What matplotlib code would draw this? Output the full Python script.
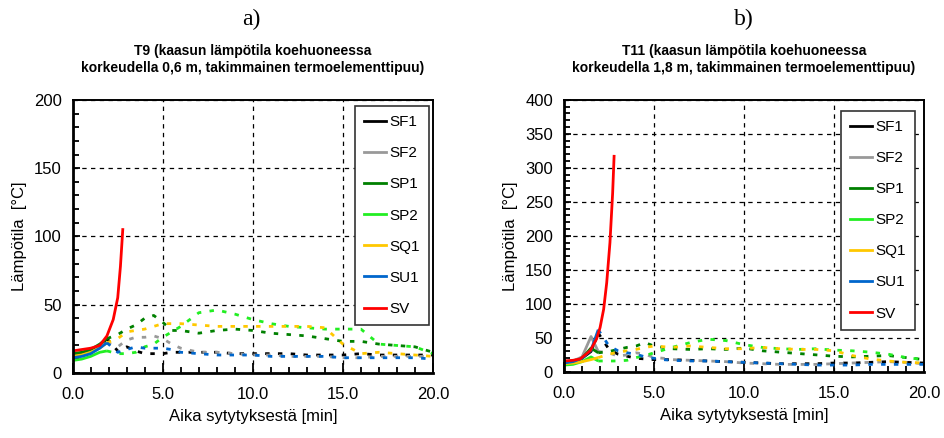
import matplotlib
matplotlib.use("Agg")
import matplotlib.pyplot as plt
from matplotlib.ticker import MultipleLocator, FormatStrFormatter

plt.rcParams['font.family'] = ['Liberation Sans', 'DejaVu Sans']

# time grid (min) shared by the measured series
t = [0, 0.5, 1, 1.5, 1.9, 2.5, 3, 3.5, 4, 4.5, 5, 5.5, 6, 7, 8, 9, 10, 11, 12, 13, 14, 15, 16, 17, 18, 19, 20]
names = ['SF1', 'SF2', 'SP1', 'SP2', 'SQ1', 'SU1']
colors = ['#000000', '#999999', '#008000', '#22ee22', '#ffc800', '#0066cc']

# a) T9, 0.6 m
a_sf1 = [13, 14, 16, 19, 25, 16, 19, 16, 14, 14, 14, 15, 15, 15, 15, 14, 14, 14, 14, 13, 13, 13, 14, 13, 13, 13, 13]
a_sf2 = [12, 13, 15, 19, 22, 19, 24, 26, 26, 27, 25, 21, 18, 15, 15, 14, 13, 13, 12, 12, 12, 11, 11, 12, 12, 12, 12]
a_sp1 = [14, 15, 17, 21, 25, 28, 32, 35, 40, 42, 37, 31, 31, 29, 31, 32, 31, 29, 28, 27, 25, 23, 23, 21, 20, 19, 15]
a_sp2 = [9, 10, 12, 15, 16, 14, 14, 15, 19, 21, 26, 30, 34, 44, 46, 43, 39, 36, 34, 33, 32, 32, 32, 21, 20, 19, 14]
a_sq1 = [12, 13, 15, 18, 22, 25, 30, 31, 32, 34, 36, 36, 36, 35, 34, 34, 34, 34, 34, 34, 33, 21, 14, 15, 14, 13, 12]
a_su1 = [11, 12, 14, 18, 22, 15, 17, 19, 18, 18, 18, 17, 15, 14, 13, 13, 13, 12, 12, 12, 12, 11, 11, 11, 11, 11, 10]
a_sv_t = [0, 0.5, 1, 1.5, 1.9, 2.25, 2.5, 2.65, 2.78]
a_sv = [16, 17, 18, 20, 27, 39, 55, 78, 105]

# b) T11, 1.8 m
b_sf1 = [15, 16, 20, 30, 57, 33, 26, 23, 20, 19, 18, 18, 18, 17, 16, 15, 14, 13, 12, 12, 12, 13, 13, 14, 15, 14, 13]
b_sf2 = [14, 16, 22, 52, 30, 28, 23, 25, 28, 26, 21, 20, 18, 17, 16, 15, 13, 12, 11, 11, 11, 12, 13, 14, 15, 14, 12]
b_sp1 = [12, 14, 20, 35, 28, 30, 33, 36, 38, 43, 38, 36, 34, 33, 34, 33, 35, 31, 29, 27, 25, 23, 22, 23, 24, 21, 18]
b_sp2 = [10, 11, 15, 22, 16, 16, 16, 17, 21, 24, 28, 32, 36, 43, 48, 46, 40, 36, 34, 33, 34, 32, 31, 29, 26, 21, 18]
b_sq1 = [12, 13, 15, 18, 21, 26, 29, 31, 33, 36, 38, 37, 36, 38, 36, 34, 34, 36, 34, 33, 33, 31, 24, 19, 16, 14, 13]
b_su1 = [13, 15, 20, 32, 62, 38, 31, 28, 26, 22, 20, 18, 17, 16, 16, 15, 14, 13, 12, 11, 10, 10, 10, 11, 11, 11, 11]
b_sv_t = [0, 0.5, 0.9, 1.45, 1.8, 2.0, 2.2, 2.37, 2.55, 2.7, 2.78]
b_sv = [16, 17, 19, 31, 48, 65, 92, 131, 190, 263, 317]

fig = plt.figure(figsize=(9.44, 4.38), dpi=100)
ax1 = fig.add_axes([0.077, 0.149, 0.3817, 0.6226])
ax2 = fig.add_axes([0.5975, 0.151, 0.3814, 0.621])

panels = [
    (ax1, [a_sf1, a_sf2, a_sp1, a_sp2, a_sq1, a_su1], a_sv_t, a_sv, 200,
     'T9 (kaasun lämpötila koehuoneessa\nkorkeudella 0,6 m, takimmainen termoelementtipuu)',
     (0.988, 0.978)),
    (ax2, [b_sf1, b_sf2, b_sp1, b_sp2, b_sq1, b_su1], b_sv_t, b_sv, 400,
     'T11 (kaasun lämpötila koehuoneessa\nkorkeudella 1,8 m, takimmainen termoelementtipuu)',
     (0.975, 0.96)),
]

split = 4  # early part of each record drawn solid
for ax, series, sv_t, sv, ymax, title, anchor in panels:
    ax.grid(True, which='major', color='black', linestyle=(0, (3.5, 3.5)), linewidth=0.9)
    ax.set_axisbelow(True)
    for name, col, vals in zip(names, colors, series):
        ax.plot(t[:split + 1], vals[:split + 1], color=col, lw=2, solid_capstyle='butt')
        ax.plot(t[split:], vals[split:], color=col, lw=2, linestyle=(0, (1.6, 3)))
        ax.plot([], [], color=col, lw=2, label=name)
    ax.plot(sv_t, sv, color='#ff0000', lw=2, label='SV')

    ax.set_xlim(0, 20)
    ax.set_ylim(0, ymax)
    ax.xaxis.set_major_locator(MultipleLocator(5))
    ax.xaxis.set_minor_locator(MultipleLocator(1))
    ax.yaxis.set_major_locator(MultipleLocator(50))
    ax.yaxis.set_minor_locator(MultipleLocator(10))
    ax.xaxis.set_major_formatter(FormatStrFormatter('%.1f'))
    ax.tick_params(which='both', direction='in', labelsize=12, width=1.3)
    ax.tick_params(axis='x', which='major', length=7, pad=10)
    ax.tick_params(axis='y', which='major', length=5, pad=8)
    ax.tick_params(which='minor', length=4)
    for s in ['left', 'bottom']:
        ax.spines[s].set_linewidth(2)
    for s in ['top', 'right']:
        ax.spines[s].set_linewidth(1.4)

    ax.set_xlabel('Aika sytytyksestä [min]', fontsize=12, labelpad=5)
    ax.set_ylabel('Lämpötila  [°C]', fontsize=12, labelpad=5)
    ax.set_title(title, fontsize=10, fontweight='bold', pad=20, linespacing=1.3)

    h, l = ax.get_legend_handles_labels()
    leg = ax.legend(h, l, loc='upper right', bbox_to_anchor=anchor, borderaxespad=0,
                    fontsize=11, labelspacing=1.12, handlelength=1.45, handletextpad=0.2,
                    fancybox=False, edgecolor='#333333', framealpha=1, borderpad=0.6)
    leg.get_frame().set_linewidth(1.2)

fig.text(0.266, 0.955, 'a)', ha='center', va='center', fontsize=17, family='Liberation Serif')
fig.text(0.788, 0.955, 'b)', ha='center', va='center', fontsize=17, family='Liberation Serif')

fig.savefig('out.png', dpi=100)
